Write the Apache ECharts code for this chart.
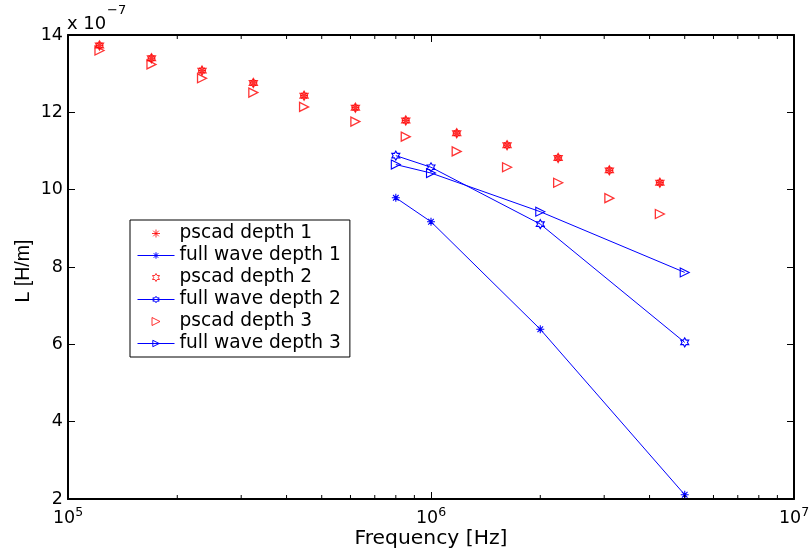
<!DOCTYPE html>
<html>
<head>
<meta charset="utf-8">
<script src="https://cdn.jsdelivr.net/npm/echarts@6/dist/echarts.min.js"></script>
<style>html,body{margin:0;padding:0;background:#fff;}#c{width:812px;height:550px;}</style>
</head>
<body>
<div id="c"></div>
<script>
// ---- data (L in units of 1e-7 H/m) ----
const freqPscad = [1.221e5, 1.698e5, 2.34e5, 3.24e5, 4.47e5, 6.19e5, 8.52e5, 1.177e6, 1.62e6, 2.24e6, 3.10e6, 4.27e6];
const pscadDepth1 = [13.73, 13.40, 13.08, 12.76, 12.43, 12.12, 11.79, 11.46, 11.15, 10.82, 10.50, 10.18];
const pscadDepth2 = [13.73, 13.40, 13.08, 12.76, 12.43, 12.12, 11.79, 11.46, 11.15, 10.82, 10.50, 10.18];
const pscadDepth3 = [13.60, 13.24, 12.88, 12.51, 12.14, 11.76, 11.37, 10.99, 10.58, 10.18, 9.78, 9.37];
const freqFull = [8e5, 1e6, 2e6, 5e6];
const fullDepth1 = [9.79, 9.17, 6.39, 2.11];
const fullDepth2 = [10.88, 10.58, 9.11, 6.05];
const fullDepth3 = [10.65, 10.43, 9.43, 7.86];
const seriesNames = ['pscad depth 1', 'full wave depth 1', 'pscad depth 2', 'full wave depth 2', 'pscad depth 3', 'full wave depth 3'];
const minorTickFreqs = [2e5, 3e5, 4e5, 5e5, 6e5, 7e5, 8e5, 9e5, 2e6, 3e6, 4e6, 5e6, 6e6, 7e6, 8e6, 9e6];
const xMin = 1e5, xMax = 1e7, yMin = 2, yMax = 14, yStep = 2;
const exponentText = '\u22127';

const RED = '#ff0000', BLUE = '#0000ff';
const ASTERISK = 'path://M5,0L5,10M0,5L10,5M1.5,1.5L8.5,8.5M1.5,8.5L8.5,1.5';
const HEXAGRAM = 'path://M5,0L6.443,2.5L9.33,2.5L7.887,5L9.33,7.5L6.443,7.5L5,10L3.557,7.5L0.67,7.5L2.113,5L0.67,2.5L3.557,2.5Z';
const TRIANGLE = 'path://M0,0L10,5L0,10Z';

const zip = (xs, ys) => xs.map((x, i) => [x, ys[i]]);
const markStyle = (c, w) => ({ color: 'rgba(0,0,0,0)', borderColor: c, borderWidth: w });

function scatter(name, ys, symbol, size) {
  return { name, type: 'scatter', data: zip(freqPscad, ys), symbol, symbolSize: size,
    itemStyle: markStyle(RED, 1.3), z: 3 };
}
function line(name, ys, symbol, size) {
  return { name, type: 'line', data: zip(freqFull, ys), symbol, symbolSize: size, showSymbol: true,
    lineStyle: { color: BLUE, width: 1 }, itemStyle: markStyle(BLUE, 1.1), z: 4 };
}

const FONT = 'DejaVu Sans';
const xLabelRich = { b: { fontFamily: FONT, fontSize: 17.5, color: '#000' }, s: { fontFamily: FONT, fontSize: 12.5, color: '#000', padding: [0, 0, 12, 0] } };

const chart = echarts.init(document.getElementById('c'), null, { renderer: 'canvas' });
chart.setOption({
  animation: false,
  backgroundColor: '#fff',
  grid: { left: 68, right: 18, top: 35, bottom: 51, containLabel: false, outerBoundsMode: 'none' },
  xAxis: [
    { type: 'log', logBase: 10, min: xMin, max: xMax, position: 'bottom',
      name: 'Frequency [Hz]', nameLocation: 'middle', nameGap: 30, nameMoveOverlap: false,
      nameTextStyle: { fontFamily: FONT, fontSize: 20.3, color: '#000' },
      axisLine: { lineStyle: { color: '#000', width: 2 } },
      axisTick: { inside: true, length: 7, lineStyle: { color: '#000' } },
      axisLabel: { margin: 7, rich: xLabelRich,
        formatter: v => '{b|10}{s|' + Math.round(Math.log10(v)) + '}' },
      splitLine: { show: false } },
    { type: 'log', logBase: 10, min: xMin, max: xMax, position: 'top',
      axisLine: { lineStyle: { color: '#000', width: 2 } },
      axisTick: { inside: true, length: 7, lineStyle: { color: '#000' } },
      axisLabel: { show: false }, splitLine: { show: false } }
  ],
  yAxis: [
    { type: 'value', min: yMin, max: yMax, interval: yStep, position: 'left',
      name: 'L [H/m]', nameLocation: 'middle', nameGap: 34, nameRotate: 90, nameMoveOverlap: false,
      nameTextStyle: { fontFamily: 'Liberation Sans', fontSize: 19.5, color: '#000', padding: [0, 0, 0, -8] },
      axisLine: { show: true, lineStyle: { color: '#000', width: 2 } },
      axisTick: { show: true, inside: true, length: 7, lineStyle: { color: '#000' } },
      axisLabel: { margin: 5, fontFamily: FONT, fontSize: 17.5, color: '#000' },
      splitLine: { show: false } },
    { type: 'value', min: yMin, max: yMax, interval: yStep, position: 'right',
      axisLine: { show: true, lineStyle: { color: '#000', width: 2 } },
      axisTick: { show: true, inside: true, length: 7, lineStyle: { color: '#000' } },
      axisLabel: { show: false }, splitLine: { show: false } }
  ],
  legend: {
    data: seriesNames, orient: 'vertical', left: 130, top: 220,
    padding: [4, 9, 4, 7], itemGap: 3, itemWidth: 37, itemHeight: 8,
    borderColor: '#000', borderWidth: 1, backgroundColor: '#fff',
    lineStyle: { width: 1 },
    itemStyle: { color: 'rgba(0,0,0,0)', borderWidth: 1 },
    textStyle: { fontFamily: FONT, fontSize: 18.6, color: '#000' }
  },
  graphic: [
    { type: 'text', left: 67, top: 15,
      style: { text: 'x 10', fontFamily: FONT, fontSize: 18, fill: '#000' } },
    { type: 'text', left: 107, top: 4,
      style: { text: exponentText, fontFamily: FONT, fontSize: 13, fill: '#000' } }
  ],
  series: [
    scatter(seriesNames[0], pscadDepth1, ASTERISK, 8),
    line(seriesNames[1], fullDepth1, ASTERISK, 8),
    scatter(seriesNames[2], pscadDepth2, HEXAGRAM, [8, 9]),
    line(seriesNames[3], fullDepth2, HEXAGRAM, [8, 9]),
    scatter(seriesNames[4], pscadDepth3, TRIANGLE, [9, 9]),
    line(seriesNames[5], fullDepth3, TRIANGLE, [9, 9]),
    { type: 'custom', silent: true, z: 5,
      data: minorTickFreqs.map(f => [f, yMin]),
      renderItem: (params, api) => {
        const f = api.value(0);
        const b = api.coord([f, yMin]);
        const t = api.coord([f, yMax]);
        return { type: 'group', children: [
          { type: 'line', shape: { x1: b[0], y1: b[1], x2: b[0], y2: b[1] - 4 }, style: { stroke: '#000', lineWidth: 1 } },
          { type: 'line', shape: { x1: t[0], y1: t[1], x2: t[0], y2: t[1] + 4 }, style: { stroke: '#000', lineWidth: 1 } }
        ] };
      } }
  ]
});
</script>
</body>
</html>
